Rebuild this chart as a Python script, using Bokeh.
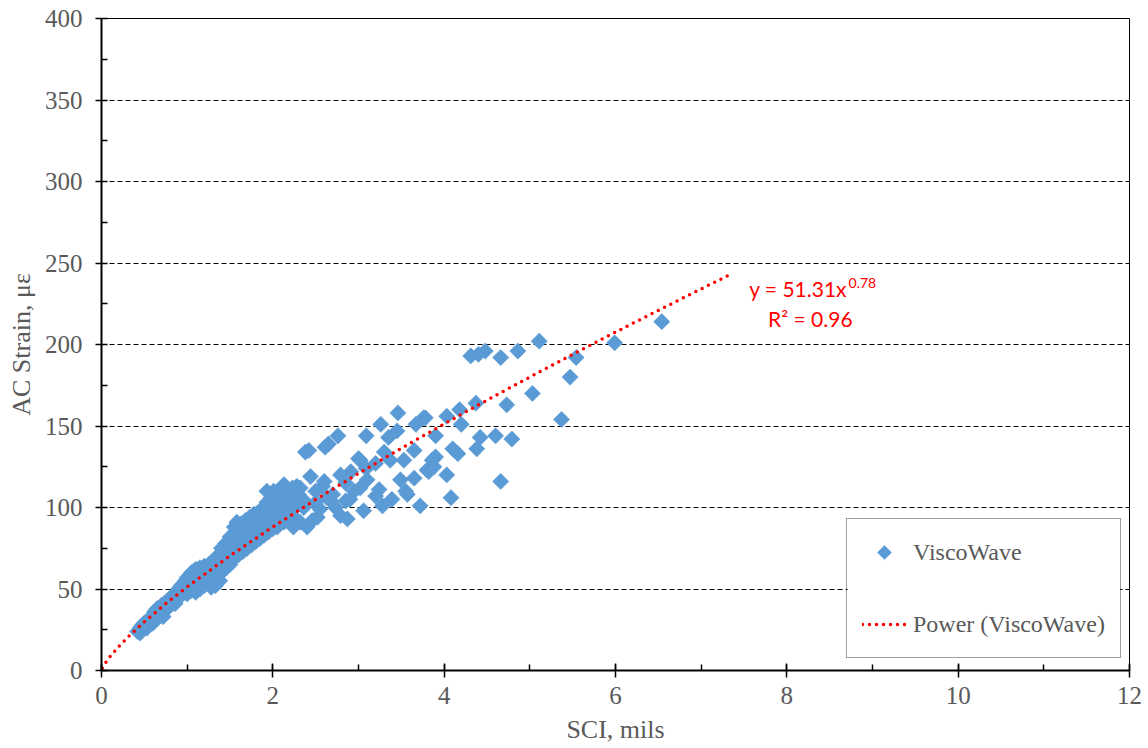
import numpy as np
from bokeh.plotting import figure
from bokeh.models import Range1d, SingleIntervalTicker, Legend, LegendItem, Label, ColumnDataSource
from bokeh.embed import file_html
from bokeh.resources import INLINE

# ---- data ----
band_sci = [0.42,0.45,0.45,0.48,0.48,0.50,0.50,0.53,0.53,0.55,0.55,0.58,0.58,0.60,0.60,0.62,0.62,0.65,0.65,0.65,
            0.68,0.68,0.70,0.70,0.73,0.73,0.75,0.75,0.78,0.78,0.80,0.80,0.83,0.83,0.85,0.85,0.88,0.88,0.90,0.90,
            0.93,0.93,0.95,0.95,0.98,0.98,1.00,1.00,1.00,1.03,1.03,1.05,1.05,1.05,1.08,1.08,1.10,1.10,1.10,1.13,
            1.13,1.15,1.15,1.15,1.18,1.18,1.20,1.20,1.20,1.23,1.23,1.25,1.25,1.25,1.28,1.28,1.30,1.30,1.30,1.33,
            1.33,1.35,1.35,1.35,1.38,1.38,1.40,1.40,1.40,1.43,1.43,1.45,1.45,1.45,1.48,1.48,1.50,1.50,1.50,1.53,
            1.53,1.55,1.55,1.55,1.58,1.58,1.58,1.60,1.60,1.60,1.63,1.63,1.63,1.65,1.65,1.68,1.68,1.68,1.70,1.70,
            1.70,1.73,1.73,1.73,1.75,1.75,1.75,1.78,1.78,1.78,1.80,1.80,1.80,1.83,1.83,1.83,1.85,1.85,1.85,1.88,
            1.88,1.88,1.90,1.90,1.90,1.93,1.93,1.93,1.95,1.95,1.95,1.98,1.98,1.98,2.00,2.00,2.00,2.00,2.03,2.03,
            2.03,2.05,2.05,2.05,2.08,2.08,2.08,2.10,2.10,2.10,2.13,2.13,2.13,2.15,2.15,2.18,2.18,2.18,2.20,2.20,
            2.23,2.23,2.25,2.25,2.28,2.28,1.28,1.33,1.38,0.72,0.86,0.60]
band_strain = [24,23,26,25,28,27,29,26,30,28,31,30,33,29,34,31,36,32,35,38,
               34,38,35,40,36,41,38,40,39,43,40,44,41,46,43,45,44,48,45,50,
               46,52,48,53,49,55,47,50,57,51,58,49,55,60,53,61,48,56,62,54,
               62,50,58,63,55,62,52,60,64,57,63,54,61,65,59,66,56,63,67,60,
               68,58,65,70,62,70,60,67,75,64,72,63,70,78,66,75,65,73,82,68,
               78,70,80,88,72,84,91,71,78,87,74,82,90,73,85,76,88,92,75,82,
               90,78,86,94,77,84,92,80,89,96,79,86,93,82,90,97,81,88,95,84,
               92,99,83,90,100,86,95,103,85,93,101,88,97,106,87,94,104,109,89,99,
               108,88,96,105,90,101,110,92,98,112,91,104,109,95,102,93,106,111,97,108,
               99,112,94,110,101,113,51,52,55,33,41,31]

spread_sci = [1.93,2.01,2.13,2.24,2.30,2.32,2.32,2.35,2.36,2.38,2.40,2.42,2.44,2.46,2.50,2.50,2.52,2.55,2.58,2.60,
              2.61,2.63,2.65,2.68,2.70,2.73,2.76,2.79,2.79,2.85,2.85,2.87,2.90,2.91,2.95,3.00,3.02,3.02,3.06,3.09,
              3.09,3.10,3.20,3.20,3.24,3.26,3.28,3.30,3.35,3.37,3.39,3.45,3.46,3.49,3.53,3.55,3.57,3.65,3.65,3.67,
              3.72,3.76,3.78,3.80,3.82,3.86,3.88,3.90,3.90,4.03,4.03,4.08,4.10,4.16,4.18,4.20,4.31,4.37,4.38,4.40,
              4.42,4.48,4.60,4.66,4.66,4.73,4.79,4.86,5.03,5.11,5.37,5.47,5.54,5.99,6.54]
spread_strain = [110,110,114,88,108,112,91,105,100,134,88,135,119,92,103,110,94,99,113,116,
                 137,106,139,104,108,100,144,120,95,104,115,93,105,122,110,130,112,129,98,144,
                 124,117,107,127,111,151,101,134,143,129,105,147,158,117,129,110,108,135,118,151,
                 101,155,155,123,122,129,125,131,144,156,120,106,136,133,160,151,193,164,136,194,
                 143,196,144,192,116,163,142,196,170,202,154,180,192,201,214]

trend_sci = [0.01,0.05,0.1,0.2,0.3,0.5,0.75,1.0,1.5,2.0,2.5,3.0,3.5,4.0,4.5,5.0,5.5,6.0,6.5,7.0,7.33]
trend_strain = [1.41,4.96,8.52,14.62,20.06,29.88,41.00,51.31,70.40,88.10,104.85,120.88,136.33,151.29,
                165.85,180.04,193.95,207.57,220.94,234.09,242.7]

x_ticks_interval = 2
y_ticks_interval = 50

GREY = "#595959"
SERIF = "Liberation Serif"
BLUE = "#5B9BD5"

sci = band_sci + spread_sci
strain = band_strain + spread_strain
src = ColumnDataSource(dict(x=sci, y=strain))
tsrc = ColumnDataSource(dict(x=trend_sci, y=trend_strain))

p = figure(width=1148, height=748, output_backend="svg", toolbar_location=None,
           x_range=Range1d(0, 12), y_range=Range1d(0, 400),
           min_border_left=101, min_border_right=19, min_border_top=18, min_border_bottom=78)
p.background_fill_color = "white"
p.border_fill_color = "white"
p.outline_line_color = "black"
p.outline_line_width = 1

sc = p.scatter("x", "y", source=src, marker="square", size=11.5, angle=np.pi / 4,
               fill_color=BLUE, line_color=BLUE, line_width=0.5)
tl = p.line("x", "y", source=tsrc, line_color="red", line_width=3.5, line_dash="0 7",
            line_cap="round")
# invisible stand-in so the legend leaves room for a key drawn as a rotated square
key_dummy = p.scatter(x=[], y=[], marker="square", fill_alpha=0, line_alpha=0)

# white panel behind the (transparent) legend box, hiding the grid line there
p.quad(left=[8.71], right=[11.89], bottom=[8.0], top=[93.0],
       fill_color="white", line_color=None)
# legend key for the scatter series
p.scatter(x=[9.14], y=[72.4], marker="square", size=10, angle=np.pi / 4,
          fill_color=BLUE, line_color=BLUE, line_width=0.5)

# axes
p.xaxis.ticker = SingleIntervalTicker(interval=x_ticks_interval, num_minor_ticks=2)
p.yaxis.ticker = SingleIntervalTicker(interval=y_ticks_interval, num_minor_ticks=2)
for ax in (p.xaxis[0], p.yaxis[0]):
    ax.axis_line_color = "black"
    ax.axis_line_width = 2
    ax.major_tick_line_color = "black"
    ax.minor_tick_line_color = "black"
    ax.major_tick_line_width = 1.5
    ax.minor_tick_line_width = 1.5
    ax.major_label_text_font = SERIF
    ax.major_label_text_font_size = "25px"
    ax.major_label_text_color = GREY
    ax.axis_label_text_font = SERIF
    ax.axis_label_text_font_size = "26px"
    ax.axis_label_text_color = GREY
    ax.axis_label_text_font_style = "normal"

p.xaxis.major_tick_in = 7
p.xaxis.major_tick_out = 7
p.xaxis.minor_tick_in = 6
p.xaxis.minor_tick_out = 0
p.xaxis.major_label_standoff = 9
p.xaxis.axis_label = "SCI, mils"
p.xaxis.axis_label_standoff = 8

p.yaxis.major_tick_in = 0
p.yaxis.major_tick_out = 6
p.yaxis.minor_tick_in = 6
p.yaxis.minor_tick_out = 0
p.yaxis.major_label_standoff = 13
p.yaxis.axis_label = "AC Strain, με"
p.yaxis.axis_label_standoff = 6

p.xgrid.grid_line_color = None
p.ygrid.grid_line_color = "black"
p.ygrid.grid_line_dash = "5 3"
p.ygrid.grid_line_width = 1

# equation labels
LFONT = "Lato"
p.add_layout(Label(x=7.56, y=234.4, text="y = 51.31x", text_color="red", text_font=LFONT,
                   text_font_size="21px", text_baseline="middle", text_align="left"))
p.add_layout(Label(x=8.72, y=238.0, text="0.78", text_color="red", text_font=LFONT,
                   text_font_size="14px", text_baseline="middle", text_align="left"))
p.add_layout(Label(x=7.78, y=216, text="R² = 0.96", text_color="red", text_font=LFONT,
                   text_font_size="21px", text_baseline="middle", text_align="left"))

legend = Legend(items=[LegendItem(label="ViscoWave", renderers=[key_dummy]),
                       LegendItem(label="Power (ViscoWave)", renderers=[tl])],
                location=(745, 12), border_line_color="#404040", border_line_width=1.2,
                background_fill_alpha=0,
                label_text_font=SERIF, label_text_font_size="24px", label_text_color=GREY,
                glyph_width=44, glyph_height=36, label_height=36, label_standoff=7,
                padding=15, spacing=36, margin=0)
p.add_layout(legend)

open("out.html", "w").write(file_html(p, INLINE))
